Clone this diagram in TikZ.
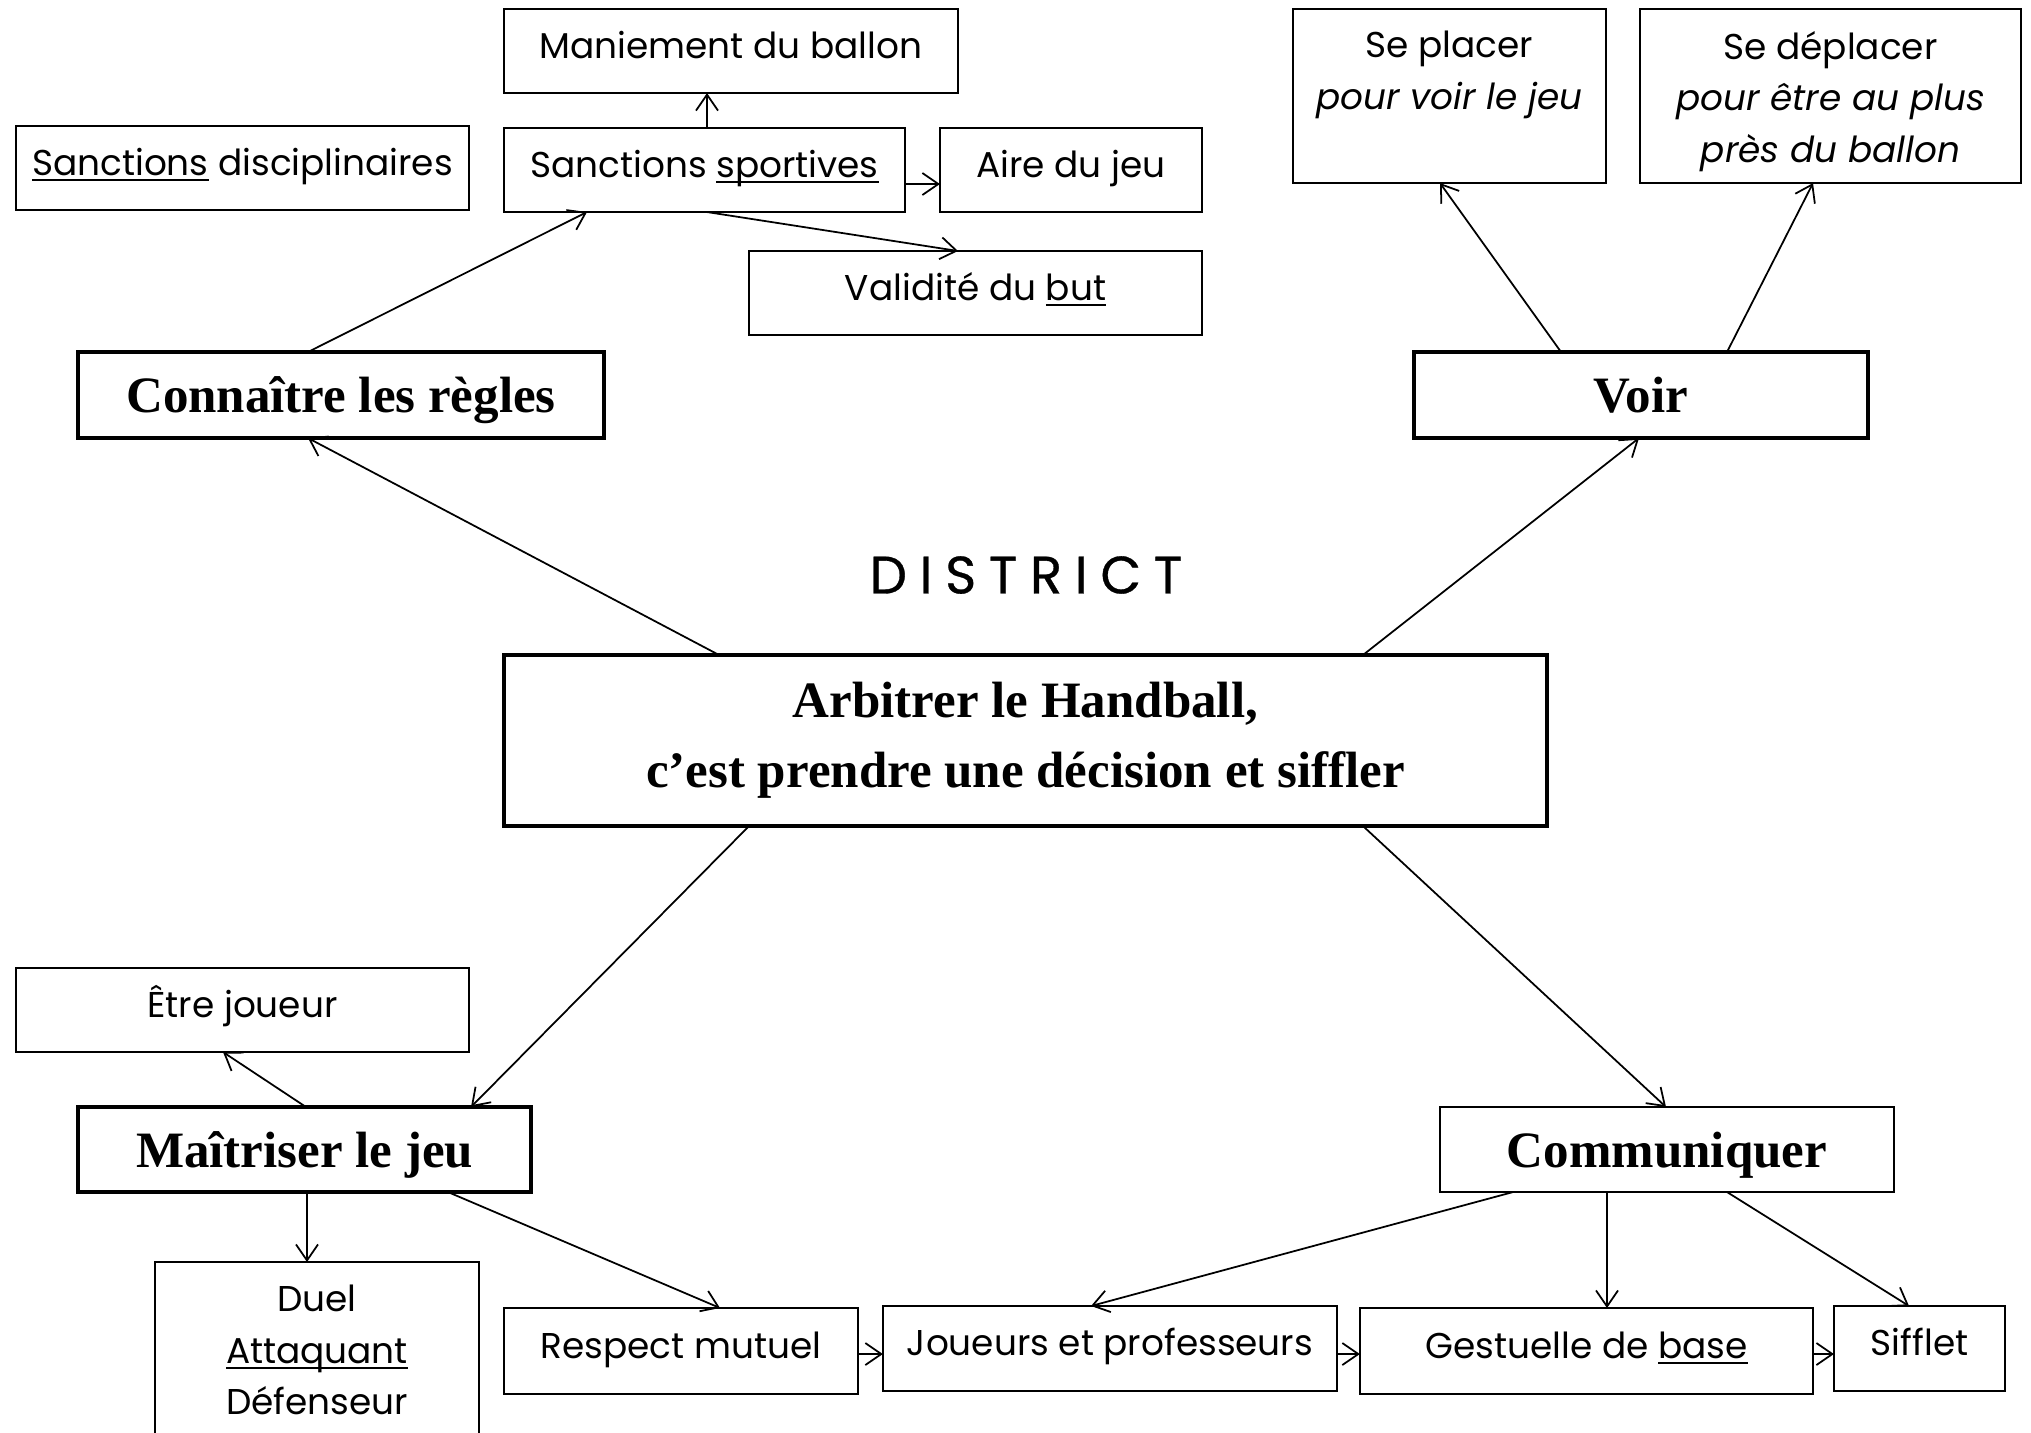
\documentclass[tikz,border=0pt]{standalone}
\usepackage{fontspec}
\setmainfont{Poppins}
\newfontfamily\titlefont{Liberation Serif}
\usetikzlibrary{calc,arrows.meta}

% body text size and line pitch
\newcommand\bodysize{\fontsize{10.2}{14.7}\selectfont}
% underline sitting just under the baseline
\newcommand\ulword[1]{\setbox0=\hbox{#1}\rlap{\rule[-1.8pt]{\wd0}{0.7pt}}\box0\relax}

\begin{document}
\begin{tikzpicture}[x=0.01cm,y=-0.01cm,
  every node/.style={inner sep=0pt, outer sep=0pt},
  plain/.style={draw, line width=0.55pt, font=\bodysize, align=center},
  oneline/.style={plain, text height=2.8mm, text depth=1.4mm},
  keybox/.style={draw, line width=1.1pt, font=\titlefont\bfseries\fontsize{14.5}{20}\selectfont, text height=3.6mm, text depth=0.1mm},
  arr/.style={-{Straight Barb[length=1.6mm,width=2.2mm]}, line width=0.5pt}]

\useasboundingbox (0,0) rectangle (2031,1432);
\fill[white] (0,0) rectangle (2031,1432);
\clip (0,0) rectangle (2031,1432);

% rules branch
\node[oneline, minimum width=4.54cm, minimum height=0.84cm] (mani) at (731,51) {Maniement du ballon};
\node[oneline, minimum width=4.53cm, minimum height=0.84cm] (sdisc) at (242.5,168) {\ulword{Sanctions} disciplinaires};
\node[oneline, minimum width=4.01cm, minimum height=0.84cm] (sspo) at (704.5,170) {Sanctions \ulword{sportives}};
\node[oneline, minimum width=2.62cm, minimum height=0.84cm] (aire) at (1071,170) {Aire du jeu};
\node[oneline, minimum width=4.53cm, minimum height=0.84cm] (valid) at (975.5,293) {Validité du \ulword{but}};
\node[keybox, minimum width=5.26cm, minimum height=0.86cm] (conn) at (341,395) {Connaître les règles};

% seeing branch
\node[plain, minimum width=3.13cm, minimum height=1.74cm] (placer) at (1449.5,96) {Se placer\\\itshape pour voir le jeu\\\mbox{}};
\node[plain, minimum width=3.81cm, minimum height=1.74cm] (deplacer) at (1830.5,96) {\rule{0pt}{11pt}Se déplacer\\\itshape pour être au plus\\\itshape près du ballon};
\node[keybox, minimum width=4.54cm, minimum height=0.86cm] (voir) at (1641,395) {Voir};

% centre
\node (district) at (1026,575) {\fontsize{15}{17}\selectfont\addfontfeatures{FakeBold=0.6}D\kern3.6pt I\kern3.6pt S\kern3.6pt T\kern3.6pt R\kern3.6pt I\kern3.6pt C\kern3.6pt T};
\node[draw, line width=1.1pt, align=center, font=\titlefont\bfseries\fontsize{14.5}{20}\selectfont,
      minimum width=10.43cm, minimum height=1.71cm] (central) at (1025.5,740.5)
      {Arbitrer le Handball,\\c’est prendre une décision et siffler};

% game branch
\node[oneline, minimum width=4.53cm, minimum height=0.84cm] (etre) at (242.5,1010) {Être joueur};
\node[keybox, minimum width=4.53cm, minimum height=0.85cm] (maitr) at (304.5,1149.5) {Maîtriser le jeu};
\node[plain, minimum width=3.24cm, minimum height=1.76cm] (duel) at (317,1350) {Duel\\\ulword{Attaquant}\\Défenseur};
\node[oneline, minimum width=3.54cm, minimum height=0.86cm] (respect) at (681,1351) {Respect mutuel};

% communication branch
\node[keybox, line width=0.55pt, minimum width=4.54cm, minimum height=0.85cm] (comm) at (1667,1149.5) {Communiquer};
\node[oneline, minimum width=4.54cm, minimum height=0.85cm] (joueurs) at (1110,1348.5) {Joueurs et professeurs};
\node[oneline, minimum width=4.53cm, minimum height=0.86cm] (gest) at (1586.5,1351) {Gestuelle de \ulword{base}};
\node[oneline, minimum width=1.71cm, minimum height=0.85cm] (siff) at (1919.5,1348.5) {Sifflet};

% connectors
\draw[arr] ($(sspo.north)+(2.5,0)$) -- ($(mani.south)+(-24,0)$);
\draw[arr] ($(sspo.east)+(0,14)$) -- ($(aire.west)+(0,14)$);
\draw[arr] ($(sspo.south)+(2.5,0)$) -- ($(valid.north)+(-17.5,0)$);
\draw[arr] ($(conn.north)+(-33,0)$) -- ($(sspo.south)+(-117.5,0)$);
\draw[arr] ($(central.north)+(-306.5,0)$) -- ($(conn.south)+(-33,0)$);
\draw[arr] ($(central.north)+(337.5,0)$) -- ($(voir.south)+(-2,0)$);
\draw[arr] ($(voir.north)+(-80,0)$) -- ($(placer.south)+(-9.5,0)$);
\draw[arr] ($(voir.north)+(86,0)$) -- ($(deplacer.south)+(-17.5,0)$);
\draw[arr] ($(central.south)+(-276.5,0)$) -- ($(maitr.north)+(166.5,0)$);
\draw[arr] ($(central.south)+(337.5,0)$) -- ($(comm.north)+(-1,0)$);
\draw[arr] ($(maitr.north)+(1.5,0)$) -- ($(etre.south)+(-19.5,0)$);
\draw[arr] ($(maitr.south)+(2.5,0)$) -- ($(duel.north)+(-10,0)$);
\draw[arr] ($(maitr.south)+(143.5,0)$) -- ($(respect.north)+(39,0)$);
\draw[arr] ($(respect.east)+(0,3)$) -- ($(joueurs.west)+(0,5.5)$);
\draw[arr] ($(comm.south)+(-154,0)$) -- ($(joueurs.north)+(-19,0)$);
\draw[arr] ($(comm.south)+(-60,0)$) -- ($(gest.north)+(20.5,0)$);
\draw[arr] ($(comm.south)+(60,0)$) -- ($(siff.north)+(-10.5,0)$);
\draw[arr] ($(joueurs.east)+(0,5.5)$) -- ($(gest.west)+(0,3)$);
\draw[arr] ($(gest.east)+(0,3)$) -- ($(siff.west)+(0,5.5)$);
\end{tikzpicture}
\end{document}
